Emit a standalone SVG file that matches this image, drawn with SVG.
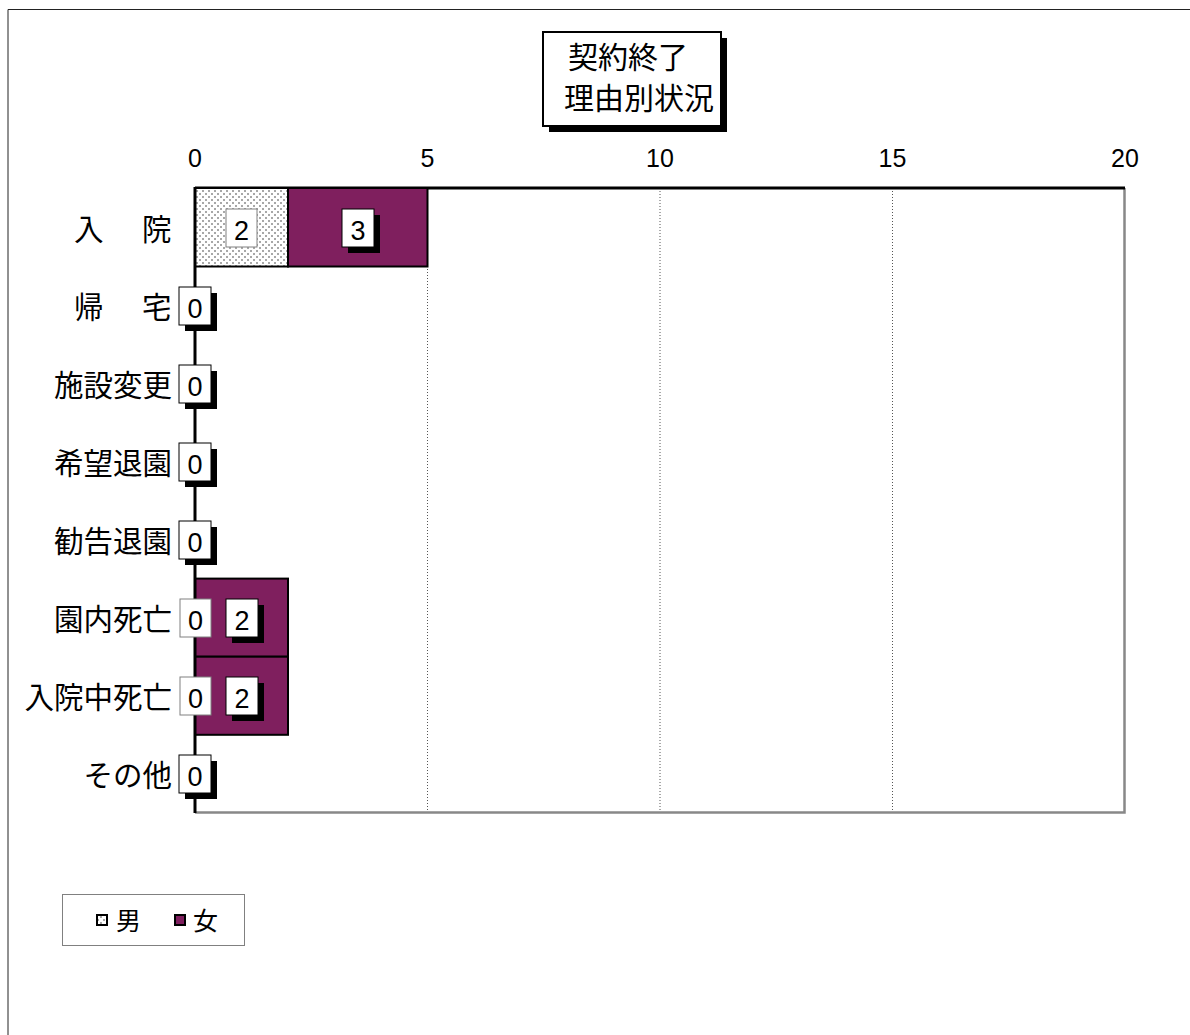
<svg xmlns="http://www.w3.org/2000/svg" width="1190" height="1035" viewBox="0 0 1190 1035">
<style>
text{font-family:"Liberation Sans","Noto Sans CJK JP",sans-serif;fill:#000}
.cat{font-size:29.5px;text-anchor:end}
.tick{font-size:25px;text-anchor:middle}
.val{font-size:27px;text-anchor:middle}
.box-m{fill:#fff;stroke:#808080;stroke-width:1}
.box-f{fill:#fff;stroke:#000;stroke-width:1}
.shadow{fill:#000}
.grid{stroke:#555;stroke-width:1;stroke-dasharray:1 2}
.bar{stroke:#000;stroke-width:2}
.male{fill:url(#dots)}
.female{fill:#7F1F5E}
</style>
<defs>
<pattern id="dots" width="6" height="6" patternUnits="userSpaceOnUse">
<rect width="6" height="6" fill="#fff"/>
<rect x="1" y="1" width="2" height="2" fill="#a8a8a8"/>
<rect x="4" y="4" width="2" height="2" fill="#a8a8a8"/>
</pattern>
</defs>
<rect width="1190" height="1035" fill="#fff"/>
<g id="frame" fill="none" stroke="#222" stroke-width="1">
<path d="M8 1035V9.5H1190"/>
</g>
<g id="title">
<rect x="549" y="38" width="178" height="94" class="shadow"/>
<rect x="543" y="32" width="178" height="94" fill="#fff" stroke="#000" stroke-width="2"/>
<text x="628" y="68" font-size="30" text-anchor="middle">契約終了</text>
<text x="639" y="109" font-size="30" text-anchor="middle">理由別状況</text>
</g>
<g id="grid">
<line x1="427.5" y1="188" x2="427.5" y2="813" class="grid"/>
<line x1="660" y1="188" x2="660" y2="813" class="grid"/>
<line x1="892.5" y1="188" x2="892.5" y2="813" class="grid"/>
</g>
<g id="plot-border">
<path d="M1124.5 188V812.5H195" fill="none" stroke="#888" stroke-width="2.5"/>
<path d="M195 188H1125" stroke="#000" stroke-width="3"/>
</g>
<g id="ticks">
<text x="195" y="167" class="tick">0</text>
<text x="427.5" y="167" class="tick">5</text>
<text x="660" y="167" class="tick">10</text>
<text x="892.5" y="167" class="tick">15</text>
<text x="1125" y="167" class="tick">20</text>
</g>
<g id="bars">
<rect x="195" y="188" width="93" height="78.5" class="bar male"/>
<rect x="288" y="188" width="139.5" height="78.5" class="bar female"/>
<rect x="195" y="578.6" width="93" height="78.1" class="bar female"/>
<rect x="195" y="656.7" width="93" height="78.1" class="bar female"/>
</g>
<g id="axis">
<line x1="195" y1="187" x2="195" y2="813" stroke="#000" stroke-width="3"/>
</g>
<g id="categories">
<text x="74 103 142" y="240" font-size="29.5">入　院</text>
<text x="74 103 142" y="318" font-size="29.5">帰　宅</text>
<text x="172" y="396" class="cat">施設変更</text>
<text x="172" y="474" class="cat">希望退園</text>
<text x="172" y="552" class="cat">勧告退園</text>
<text x="172" y="630" class="cat">園内死亡</text>
<text x="172" y="708" class="cat">入院中死亡</text>
<text x="172" y="786" class="cat">その他</text>
</g>
<g id="labels-male">
<rect x="226" y="209" width="31" height="38" class="box-m"/>
<text x="241.5" y="240" class="val">2</text>
<rect x="180" y="599" width="31" height="38" class="box-m"/>
<text x="195.5" y="630" class="val">0</text>
<rect x="180" y="677" width="31" height="38" class="box-m"/>
<text x="195.5" y="708" class="val">0</text>
</g>
<g id="labels-female">
<rect x="348" y="215" width="32" height="38" class="shadow"/>
<rect x="342" y="209" width="32" height="38" class="box-f"/>
<text x="358" y="240" class="val">3</text>
<rect x="185" y="293" width="32" height="38" class="shadow"/>
<rect x="179" y="287" width="32" height="38" class="box-f"/>
<text x="195" y="318" class="val">0</text>
<rect x="185" y="371" width="32" height="38" class="shadow"/>
<rect x="179" y="365" width="32" height="38" class="box-f"/>
<text x="195" y="396" class="val">0</text>
<rect x="185" y="449" width="32" height="38" class="shadow"/>
<rect x="179" y="443" width="32" height="38" class="box-f"/>
<text x="195" y="474" class="val">0</text>
<rect x="185" y="527" width="32" height="38" class="shadow"/>
<rect x="179" y="521" width="32" height="38" class="box-f"/>
<text x="195" y="552" class="val">0</text>
<rect x="232" y="605" width="32" height="38" class="shadow"/>
<rect x="226" y="599" width="32" height="38" class="box-f"/>
<text x="242" y="630" class="val">2</text>
<rect x="232" y="683" width="32" height="38" class="shadow"/>
<rect x="226" y="677" width="32" height="38" class="box-f"/>
<text x="242" y="708" class="val">2</text>
<rect x="185" y="761" width="32" height="38" class="shadow"/>
<rect x="179" y="755" width="32" height="38" class="box-f"/>
<text x="195" y="786" class="val">0</text>
</g>
<g id="legend">
<rect x="62.5" y="894.5" width="182" height="51" fill="#fff" stroke="#808080" stroke-width="1"/>
<rect x="97" y="915" width="10" height="10" fill="url(#dots)" stroke="#000" stroke-width="2"/>
<text x="116" y="930" font-size="25">男</text>
<rect x="175" y="915" width="10" height="10" fill="#7F1F5E" stroke="#000" stroke-width="2"/>
<text x="193" y="930" font-size="25">女</text>
</g>
</svg>
